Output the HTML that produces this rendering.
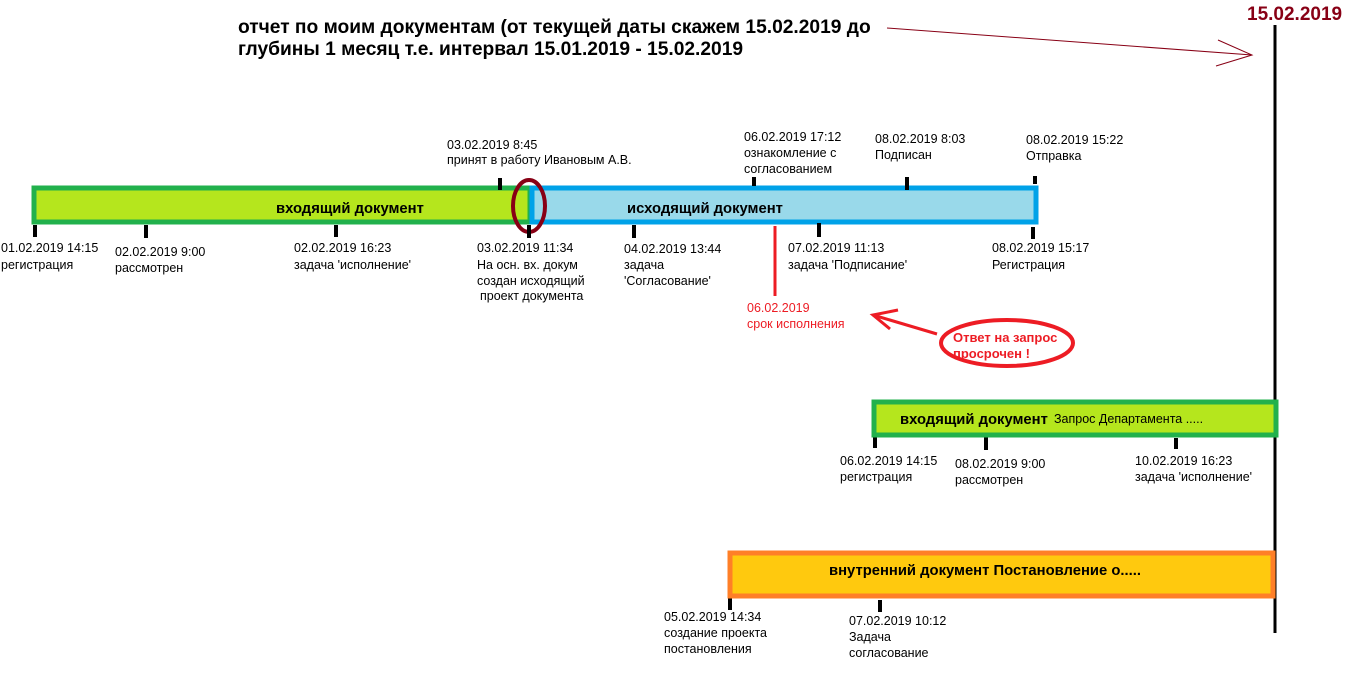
<!DOCTYPE html>
<html><head><meta charset="utf-8"><style>
html,body{margin:0;padding:0;background:#fff;}
svg{display:block;}
text{font-family:"Liberation Sans",Arial,sans-serif;font-size:12.5px;fill:#000;}
.b{font-weight:bold;font-size:14.8px;}
.t{font-weight:bold;font-size:19.2px;}
.r{fill:#ed1c24;}
</style></head><body>
<svg width="1362" height="691" viewBox="0 0 1362 691" xmlns="http://www.w3.org/2000/svg">
<text class="t" x="238" y="33">отчет по моим документам (от текущей даты скажем 15.02.2019 до</text>
<text class="t" x="238" y="55">глубины 1 месяц т.е.  интервал  15.01.2019 - 15.02.2019</text>
<line x1="887" y1="28" x2="1252" y2="55" stroke="#880015" stroke-width="1"/>
<polyline points="1218,40 1252,55 1216,66" fill="none" stroke="#880015" stroke-width="1"/>
<text x="1247" y="20" style="font-weight:bold;font-size:19px;fill:#880015">15.02.2019</text>
<line x1="1275" y1="25" x2="1275" y2="633" stroke="#000" stroke-width="3"/>

<rect x="34" y="188" width="496" height="34" fill="#b5e61d" stroke="#22b14c" stroke-width="5"/>
<rect x="532" y="188" width="504" height="34" fill="#99d9ea" stroke="#00a2e8" stroke-width="5"/>
<text class="b" x="276" y="213">входящий документ</text>
<text class="b" x="627" y="213">исходящий документ</text>
<ellipse cx="529" cy="206" rx="16" ry="26" fill="none" stroke="#880015" stroke-width="4"/>

<g stroke="#000" stroke-width="4">
<line x1="35" y1="225" x2="35" y2="237"/>
<line x1="146" y1="225" x2="146" y2="238"/>
<line x1="336" y1="225" x2="336" y2="237"/>
<line x1="529" y1="225" x2="529" y2="238"/>
<line x1="634" y1="225" x2="634" y2="238"/>
<line x1="819" y1="223" x2="819" y2="237"/>
<line x1="1033" y1="227" x2="1033" y2="239"/>
<line x1="500" y1="178" x2="500" y2="190"/>
<line x1="754" y1="177" x2="754" y2="186"/>
<line x1="907" y1="177" x2="907" y2="190"/>
<line x1="1035" y1="176" x2="1035" y2="184"/>
<line x1="875" y1="437" x2="875" y2="448"/>
<line x1="986" y1="437" x2="986" y2="450"/>
<line x1="1176" y1="438" x2="1176" y2="449"/>
<line x1="730" y1="598" x2="730" y2="610"/>
<line x1="880" y1="600" x2="880" y2="612"/>
</g>
<line x1="775" y1="226" x2="775" y2="296" stroke="#ed1c24" stroke-width="3"/>

<text x="1" y="252">01.02.2019 14:15</text><text x="1" y="269">регистрация</text>
<text x="115" y="256">02.02.2019 9:00</text><text x="115" y="272">рассмотрен</text>
<text x="294" y="252">02.02.2019  16:23</text><text x="294" y="269">задача 'исполнение'</text>
<text x="477" y="252">03.02.2019  11:34</text><text x="477" y="269">На осн. вх. докум</text><text x="477" y="285">создан исходящий</text><text x="480" y="300">проект документа</text>
<text x="624" y="253">04.02.2019  13:44</text><text x="624" y="269">задача</text><text x="624" y="285">'Согласование'</text>
<text x="788" y="252">07.02.2019  11:13</text><text x="788" y="269">задача 'Подписание'</text>
<text x="992" y="252">08.02.2019  15:17</text><text x="992" y="269">Регистрация</text>
<text x="447" y="149">03.02.2019 8:45</text><text x="447" y="164">принят в работу Ивановым А.В.</text>
<text x="744" y="141">06.02.2019  17:12</text><text x="744" y="157">ознакомление с</text><text x="744" y="173">согласованием</text>
<text x="875" y="143">08.02.2019 8:03</text><text x="875" y="159">Подписан</text>
<text x="1026" y="144">08.02.2019 15:22</text><text x="1026" y="160">Отправка</text>
<text class="r" x="747" y="312">06.02.2019</text><text class="r" x="747" y="328">срок исполнения</text>

<line x1="937" y1="334" x2="873" y2="315" stroke="#ed1c24" stroke-width="3"/>
<polyline points="898,310 873,315 890,329" fill="none" stroke="#ed1c24" stroke-width="3"/>
<ellipse cx="1007" cy="343" rx="66" ry="23" fill="none" stroke="#ed1c24" stroke-width="4"/>
<text class="r" x="953" y="342" style="font-weight:bold;font-size:13px">Ответ на запрос</text>
<text class="r" x="953" y="358" style="font-weight:bold;font-size:13px">просрочен !</text>

<rect x="874" y="402" width="402" height="33" fill="#b5e61d" stroke="#22b14c" stroke-width="5"/>
<text class="b" x="900" y="424">входящий документ</text><text x="1054" y="423">Запрос Департамента .....</text>
<text x="840" y="465">06.02.2019 14:15</text><text x="840" y="481">регистрация</text>
<text x="955" y="468">08.02.2019 9:00</text><text x="955" y="484">рассмотрен</text>
<text x="1135" y="465">10.02.2019  16:23</text><text x="1135" y="481">задача 'исполнение'</text>

<rect x="730" y="553" width="543" height="43" fill="#ffc90e" stroke="#ff7f27" stroke-width="5"/>
<text class="b" x="829" y="575">внутренний документ  Постановление о.....</text>
<text x="664" y="621">05.02.2019 14:34</text><text x="664" y="637">создание проекта</text><text x="664" y="653">постановления</text>
<text x="849" y="625">07.02.2019 10:12</text><text x="849" y="641">Задача</text><text x="849" y="657">согласование</text>
</svg>
</body></html>
